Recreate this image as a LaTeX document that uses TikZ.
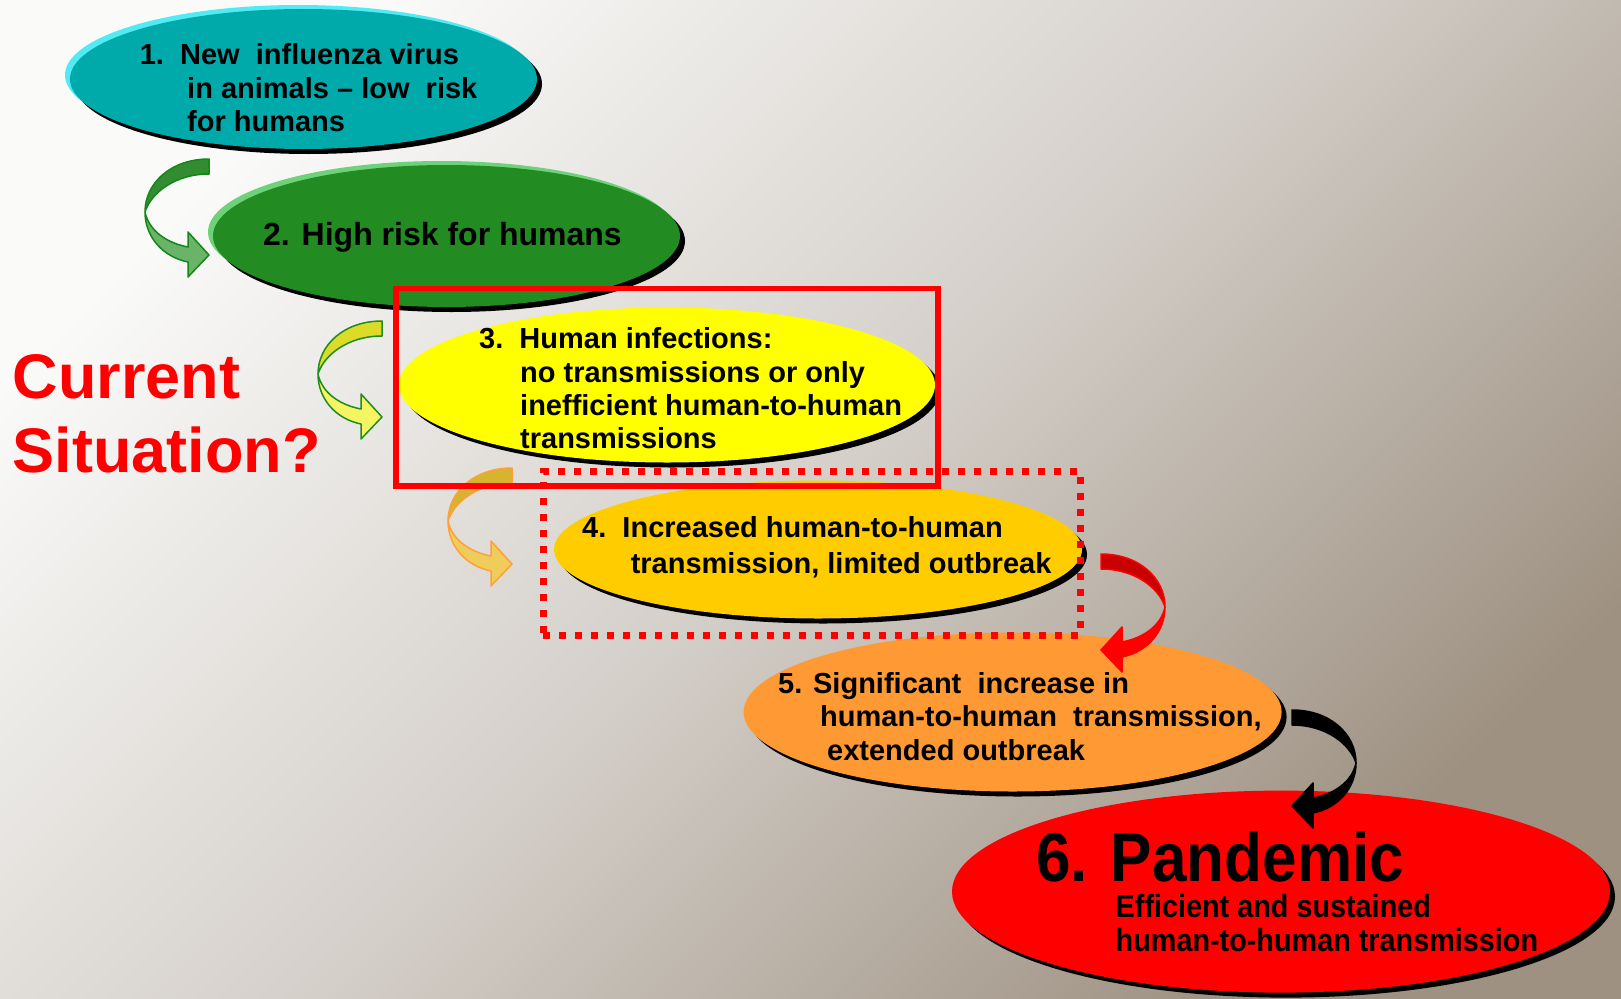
\documentclass[tikz,border=0pt]{standalone}
\usepackage{fontspec}
\setmainfont{Liberation Sans}
\newfontfamily\narrowsans[FakeStretch=0.9]{Liberation Sans}
\usetikzlibrary{shapes.geometric,shadows}
\definecolor{bgA}{RGB}{250,250,249}
\definecolor{bgM}{RGB}{212,207,201}
\definecolor{bgB}{RGB}{158,145,130}
\definecolor{tealE}{RGB}{0,170,170}
\definecolor{tealHi}{RGB}{80,235,245}
\definecolor{greenE}{RGB}{34,139,34}
\definecolor{greenHi}{RGB}{110,210,120}
\definecolor{yellowE}{RGB}{255,255,0}
\definecolor{goldE}{RGB}{255,204,0}
\definecolor{orangeE}{RGB}{255,153,51}
\definecolor{redE}{RGB}{255,0,0}
\definecolor{grDark}{RGB}{50,140,50}
\definecolor{grLight}{RGB}{105,180,105}
\definecolor{grLine}{RGB}{20,135,20}
\definecolor{yeDark}{RGB}{220,220,40}
\definecolor{yeLight}{RGB}{245,245,100}
\definecolor{yeLine}{RGB}{30,140,30}
\definecolor{orDark}{RGB}{215,180,45}
\definecolor{orLight}{RGB}{240,205,90}
\definecolor{orLine}{RGB}{255,160,60}
\definecolor{rdDark}{RGB}{200,0,0}
\definecolor{rdLight}{RGB}{255,0,0}
\definecolor{rdLine}{RGB}{255,0,0}
\newcommand\twistarrow[6]{%
  \begin{scope}[shift={(#1,#2)}, xscale=#3, line width=1.5pt, draw=#6, line join=round]
    \filldraw[fill=#4] (0,0) .. controls (-38,0) and (-64,24) .. (-64,53)
      .. controls (-58,34) and (-34,15) .. (0,15) -- cycle;
    \filldraw[fill=#5] (-64,53) .. controls (-64,78) and (-46,98) .. (-21,103)
      -- (-21,118) -- (0,96) -- (-21,73) -- (-21,88)
      .. controls (-42,84) and (-60,72) .. (-64,53) -- cycle;
  \end{scope}}
\tikzset{
  stage/.style={ellipse, inner sep=0pt, draw=none,
    drop shadow={shadow xshift=5pt, shadow yshift=-5pt, fill=black, opacity=1}},
  hilite/.style={general shadow={shadow xshift=-5pt, shadow yshift=4pt, fill=#1}},
  lbl/.style={anchor=base west, inner sep=0pt, font=\bfseries\fontsize{29}{33}\selectfont},
  biglbl/.style={anchor=base west, inner sep=0pt, text=redE, font=\bfseries\fontsize{63}{74}\selectfont},
}
\begin{document}
\begin{tikzpicture}[x=1pt,y=-1pt]
\useasboundingbox (0,0) rectangle (1621,998);
\shade[top color=bgA, bottom color=bgB, middle color=bgM, shading angle=45] (0,0) rectangle (1621,998);

% stages
\node[stage, hilite=tealHi, fill=tealE, minimum width=467pt, minimum height=140pt] (e1) at (303.5,79) {};
\node[stage, hilite=greenHi, fill=greenE, minimum width=467pt, minimum height=142pt] (e2) at (446.5,236) {};
\node[stage, fill=yellowE, minimum width=536pt, minimum height=155pt] (e3) at (667,385) {};
\node[stage, fill=goldE, minimum width=528pt, minimum height=138pt] (e4) at (818,549.5) {};
\node[stage, fill=orangeE, minimum width=538pt, minimum height=159pt] (e5) at (1012.6,712) {};
\node[stage, fill=redE, minimum width=658pt, minimum height=202pt] (e6) at (1281,891.6) {};

% texts
\node[lbl] (t1a) at (139.6,64.5) {1.\ \ New\ \ influenza virus};
\node[lbl] (t1b) at (187,98.5) {in animals – low\ \ risk};
\node[lbl] (t1c) at (187,131.5) {for humans};
\node[lbl, font=\bfseries\fontsize{32}{36}\selectfont] (t2) at (263,245) {2. High risk for humans};
\node[lbl] (t3a) at (479,348.5) {3.\ \ Human infections:};
\node[lbl] (t3b) at (520,382.5) {no transmissions or only};
\node[lbl] (t3c) at (520,415.6) {inefficient human-to-human};
\node[lbl] (t3d) at (520,448.7) {transmissions};
\node[lbl] (t4a) at (582,537.5) {4.\ \ Increased human-to-human};
\node[lbl] (t4b) at (630.6,573) {transmission, limited outbreak};
\node[lbl] (t5a) at (778,693.7) {5. Significant\ \ increase in};
\node[lbl] (t5b) at (820,726.8) {human-to-human\ \ transmission,};
\node[lbl] (t5c) at (827,760) {extended outbreak};
\node[lbl, font=\narrowsans\bfseries\fontsize{69}{72}\selectfont] (t6a) at (1036,881) {6. Pandemic};
\node[lbl, font=\narrowsans\bfseries\fontsize{32}{34}\selectfont] (t6b) at (1115.5,917) {Efficient and sustained};
\node[lbl, font=\narrowsans\bfseries\fontsize{32}{34}\selectfont] (t6c) at (1115.5,951) {human-to-human transmission};

\node[biglbl] (cs1) at (12.4,398) {Current};
\node[biglbl] (cs2) at (12.4,472.5) {Situation?};

% curved arrows
\twistarrow{209}{159}{1}{grDark}{grLight}{grLine}
\twistarrow{382}{321}{1}{yeDark}{yeLight}{yeLine}
\twistarrow{512}{468}{1}{orDark}{orLight}{orLine}
\twistarrow{1101}{554}{-1}{rdDark}{rdLight}{rdLine}
\twistarrow{1292}{710}{-1}{black}{black}{black}

% frames
\node[draw=redE, line width=7pt, dash pattern=on 7pt off 9pt, inner sep=0pt,
  minimum width=537pt, minimum height=163.6pt] (nextframe) at (811.5,553.2) {};
\node[draw=redE, line width=5.5pt, inner sep=0pt,
  minimum width=542pt, minimum height=197.5pt] (curframe) at (667,387.25) {};
\end{tikzpicture}
\end{document}
